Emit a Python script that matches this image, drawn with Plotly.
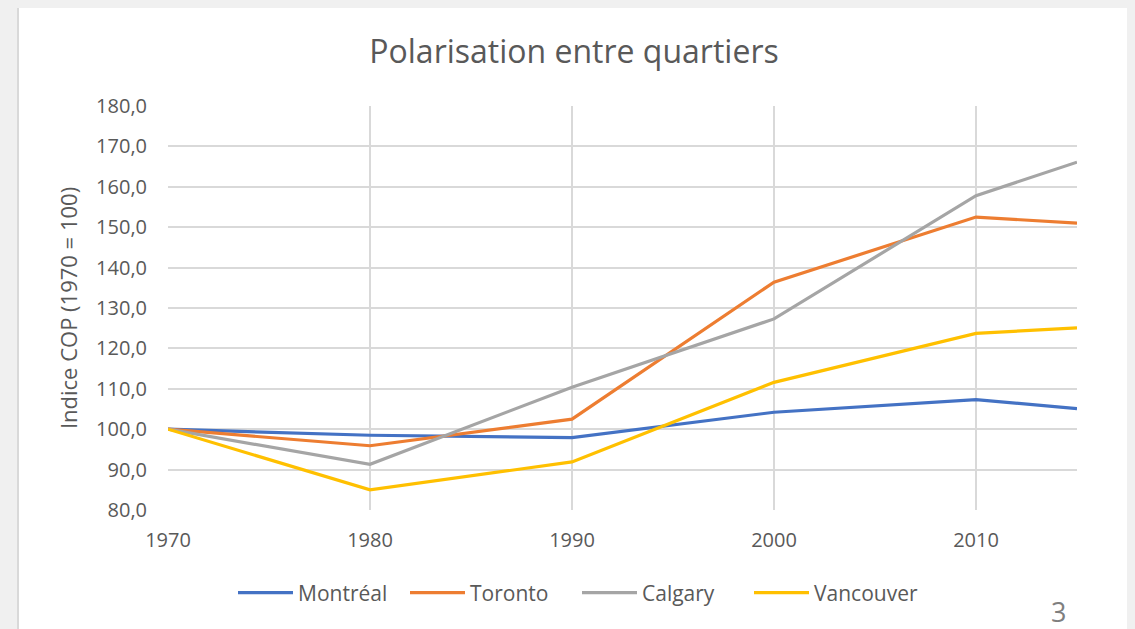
import plotly.graph_objects as go

years = [1970, 1980, 1990, 2000, 2010, 2015]
montreal = [100.0, 98.5, 97.9, 104.2, 107.3, 105.1]
toronto = [100.0, 95.9, 102.5, 136.4, 152.5, 151.0]
calgary = [100.0, 91.3, 110.4, 127.3, 157.8, 166.1]
vancouver = [100.0, 85.0, 91.9, 111.6, 123.7, 125.1]

series = [("Montréal", montreal, "#4472C4"),
          ("Toronto", toronto, "#ED7D31"),
          ("Calgary", calgary, "#A5A5A5"),
          ("Vancouver", vancouver, "#FFC000")]

xticks = [1970, 1980, 1990, 2000, 2010]
yticks = [80, 90, 100, 110, 120, 130, 140, 150, 160, 170, 180]

OFF = 8  # page body margin
W, H = 1135 - OFF, 629 - OFF + 12
L, T = 168 - OFF, 106 - OFF
PR, PB = 1077 - OFF, 510 - OFF  # plot right/bottom in figure px
R, B = W - PR, H - PB
pw, ph = PR - L, PB - T

def px(x):
    return (x - OFF - L) / pw

def py(y):
    return (PB - (y - OFF)) / ph

fig = go.Figure()
for name, vals, col in series:
    fig.add_trace(go.Scatter(x=years, y=vals, name=name, mode="lines",
                             line=dict(color=col, width=3.2)))

fig.update_layout(
    width=W, height=H,
    margin=dict(l=L, r=R, t=T, b=B),
    paper_bgcolor="#f0f0f0",
    plot_bgcolor="white",
    separators=",.",
    font=dict(family="Open Sans, Liberation Sans, sans-serif", color="#595959"),
    title=dict(text="Polarisation entre quartiers", x=px(574), xanchor="center",
               xref="paper", y=1 - (52 - OFF) / H, yanchor="middle",
               font=dict(size=32, color="#595959")),
    showlegend=True,
    legend=dict(orientation="h", x=px(577), xanchor="center", y=py(593),
                yanchor="middle", font=dict(size=21, color="#595959"),
                bgcolor="rgba(0,0,0,0)", itemwidth=55, entrywidth=102,
                entrywidthmode="pixels"),
    shapes=[dict(type="rect", xref="paper", yref="paper",
                 x0=px(18), x1=px(1128), y0=py(660), y1=py(7),
                 fillcolor="white", line=dict(color="#d9d9d9", width=2),
                 layer="below")],
    annotations=[dict(text="3", xref="paper", yref="paper", x=px(1058), y=py(611),
                      xanchor="center", yanchor="middle", showarrow=False,
                      font=dict(size=27, color="#7f7f7f"))],
)

fig.update_xaxes(range=[1970, 2015], tickvals=xticks, ticktext=[str(v) for v in xticks],
                 showgrid=True, gridcolor="#d9d9d9", gridwidth=1.5,
                 showline=False, zeroline=False, ticks="",
                 tickfont=dict(size=20, color="#595959"), ticklabelstandoff=16)
fig.update_yaxes(range=[80, 180], tickvals=yticks, tickformat=".1f",
                 showgrid=True, gridcolor="#d9d9d9", gridwidth=1.5,
                 showline=False, zeroline=False, ticks="",
                 tickfont=dict(size=20, color="#595959"), ticklabelstandoff=20,
                 title=dict(text="Indice COP (1970 = 100)", standoff=12,
                            font=dict(size=22, color="#595959")))

fig.write_html("out.html",
               post_script="document.body.style.background='#f0f0f0';")
